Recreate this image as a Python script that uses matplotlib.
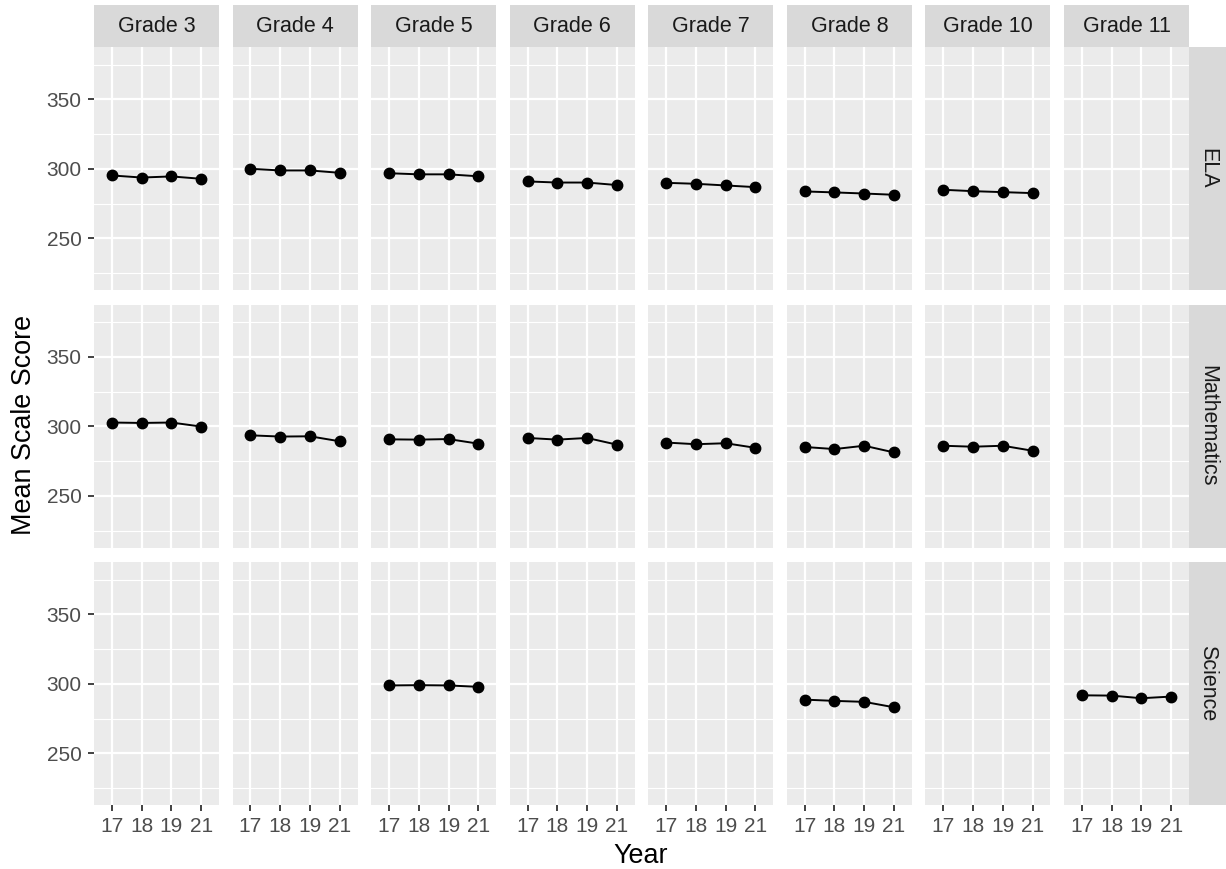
import matplotlib.pyplot as plt
import numpy as np

plt.rcParams["font.family"] = ["Liberation Sans", "DejaVu Sans"]

grades = ["Grade 3", "Grade 4", "Grade 5", "Grade 6", "Grade 7", "Grade 8", "Grade 10", "Grade 11"]
subjects = ["ELA", "Mathematics", "Science"]
years = ["17", "18", "19", "21"]

# mean scale score per grade, one list per subject (None = not tested)
ela = [
    [295.2, 293.7, 294.5, 292.8],
    [300.0, 298.8, 298.8, 297.1],
    [296.8, 296.0, 296.0, 294.6],
    [290.9, 290.1, 290.1, 288.3],
    [289.9, 289.2, 288.0, 286.8],
    [283.7, 283.0, 282.2, 281.3],
    [284.9, 283.9, 283.2, 282.5],
    None,
]
math = [
    [302.7, 302.4, 302.7, 299.8],
    [293.5, 292.6, 292.8, 289.2],
    [290.6, 290.4, 290.8, 287.5],
    [291.6, 290.4, 291.6, 286.8],
    [288.3, 287.1, 287.8, 284.5],
    [285.1, 283.6, 286.0, 281.2],
    [286.0, 285.3, 286.0, 282.4],
    None,
]
science = [
    None,
    None,
    [298.8, 299.0, 298.8, 297.8],
    None,
    None,
    [288.6, 287.7, 287.0, 283.1],
    None,
    [291.7, 291.5, 289.6, 290.8],
]
scores = {"ELA": ela, "Mathematics": math, "Science": science}

W, H = 1226, 869
fig = plt.figure(figsize=(W / 100, H / 100), dpi=100)

panel_bg = "#EBEBEB"
strip_bg = "#D9D9D9"
x = np.arange(len(years))

left0, col_pitch, pw = 94, 138.57, 125
top0, row_pitch, ph = 47, 257.5, 243
strip_h = 42
rstrip_w = 38


def px_axes(l, t, w, h):
    return fig.add_axes([l / W, 1 - (t + h) / H, w / W, h / H])


def bare(a):
    a.set_facecolor(strip_bg)
    a.set_xticks([])
    a.set_yticks([])
    for s in a.spines.values():
        s.set_visible(False)


for r, subj in enumerate(subjects):
    for c, grade in enumerate(grades):
        l = left0 + c * col_pitch
        t = top0 + r * row_pitch
        ax = px_axes(l, t, pw, ph)
        ax.set_facecolor(panel_bg)
        ax.set_xlim(-0.6, len(years) - 0.4)
        ax.set_ylim(212.8, 387.6)
        ax.set_xticks(x)
        ax.set_yticks([250, 300, 350])
        ax.set_yticks([225, 275, 325, 375], minor=True)
        ax.grid(True, which="major", color="white", lw=1.6)
        ax.grid(True, which="minor", axis="y", color="white", lw=0.8)
        ax.set_axisbelow(True)
        for s in ax.spines.values():
            s.set_visible(False)
        ax.tick_params(which="minor", length=0)
        ax.tick_params(which="major", length=4.5, width=1.3, color="#333333",
                       labelsize=15, labelcolor="#4D4D4D")
        ax.tick_params(axis="y", pad=4.5)
        ax.tick_params(axis="x", pad=4.5)
        if c == 0:
            ax.set_yticklabels(["250", "300", "350"])
        else:
            ax.tick_params(axis="y", length=0, labelleft=False)
        if r == len(subjects) - 1:
            ax.set_xticklabels(years)
        else:
            ax.tick_params(axis="x", length=0, labelbottom=False)

        vals = scores[subj][c]
        if vals is not None:
            ax.plot(x, vals, color="black", lw=1.4, marker="o", ms=7.5, zorder=3)

        if r == 0:
            sax = px_axes(l, t - strip_h, pw, strip_h)
            bare(sax)
            sax.text(0.5, 0.5, grade, ha="center", va="center", fontsize=15.5,
                     color="#1A1A1A", transform=sax.transAxes)

    rax = px_axes(left0 + 7 * col_pitch + pw, top0 + r * row_pitch, rstrip_w, ph)
    bare(rax)
    rax.text(0.5, 0.5, subj, ha="center", va="center", rotation=-90, fontsize=15.5,
             color="#1A1A1A", transform=rax.transAxes)

fig.text(24 / W, 1 - 425 / H, "Mean Scale Score", rotation=90, ha="center", va="center",
         fontsize=19.4, color="black")
fig.text(641 / W, 1 - 856 / H, "Year", ha="center", va="center", fontsize=19.4, color="black")

fig.savefig("out.png", dpi=100, facecolor="white")
